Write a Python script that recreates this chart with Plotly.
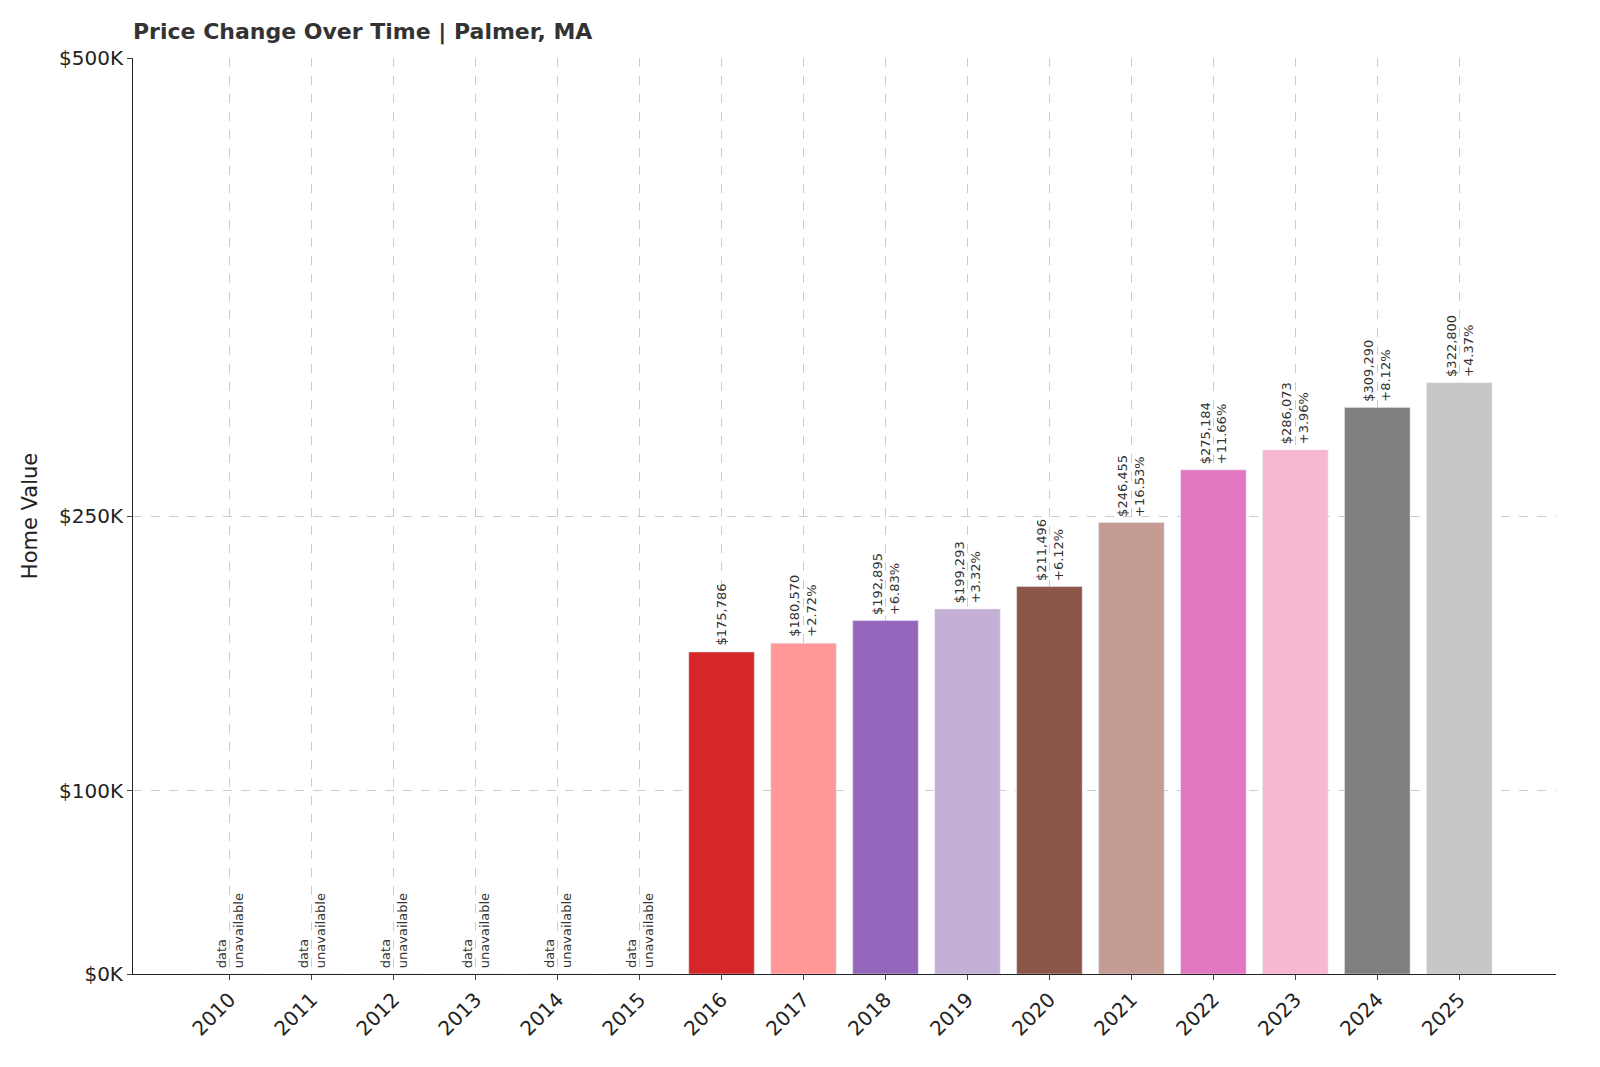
import plotly.graph_objects as go

years = [str(y) for y in range(2010, 2026)]
values = [None, None, None, None, None, None,
          175786, 180570, 192895, 199293, 211496, 246455, 275184, 286073, 309290, 322800]
changes = [None] * 7 + ["+2.72%", "+6.83%", "+3.32%", "+6.12%", "+16.53%", "+11.66%", "+3.96%", "+8.12%", "+4.37%"]
colors = ["#d62728"] * 6 + ["#d62728", "#ff9896", "#9467bd", "#c5b0d5", "#8c564b",
                            "#c49c94", "#e377c2", "#f7b6d2", "#7f7f7f", "#c7c7c7"]
tick_vals = [0, 100000, 250000, 500000]
tick_text = ["$0K", "$100K", "$250K", "$500K"]

fig = go.Figure(go.Bar(x=years, y=[v if v else 0 for v in values],
                       marker_color=colors, width=0.8))

for i, (v, c) in enumerate(zip(values, changes)):
    if v is None:
        txt, yv = "data<br>unavailable", 0
    else:
        txt = f"${v:,}" + (f"<br>{c}" if c else "")
        yv = v
    fig.add_annotation(x=i, y=yv, text=txt, textangle=-90, showarrow=False,
                       yanchor="bottom", yshift=4, align="left",
                       font=dict(size=13, color="#333", family="DejaVu Sans"))

fig.update_layout(
    width=1600, height=1067, plot_bgcolor="white", paper_bgcolor="white",
    margin=dict(l=125, r=52, t=50, b=101),
    title=dict(text="<b>Price Change Over Time | Palmer, MA</b>", x=125 / 1600, xanchor="left",
               y=0.985, yanchor="top", font=dict(size=22, color="#333", family="DejaVu Sans")),
    font=dict(family="DejaVu Sans", color="#222"),
    showlegend=False,
)
fig.update_xaxes(type="category", tickangle=-45, tickfont=dict(size=20), range=[-1.18, 16.18],
                 showgrid=True, gridcolor="#ccc", griddash="dash", ticks="outside",
                 showline=True, linecolor="#222")
fig.update_yaxes(range=[0, 500000], tickvals=tick_vals, ticktext=tick_text, tickfont=dict(size=20),
                 title=dict(text="Home Value", font=dict(size=21)),
                 showgrid=True, gridcolor="#ccc", griddash="dash", ticks="outside",
                 showline=True, linecolor="#222", zeroline=False)

fig.write_html("out.html")
